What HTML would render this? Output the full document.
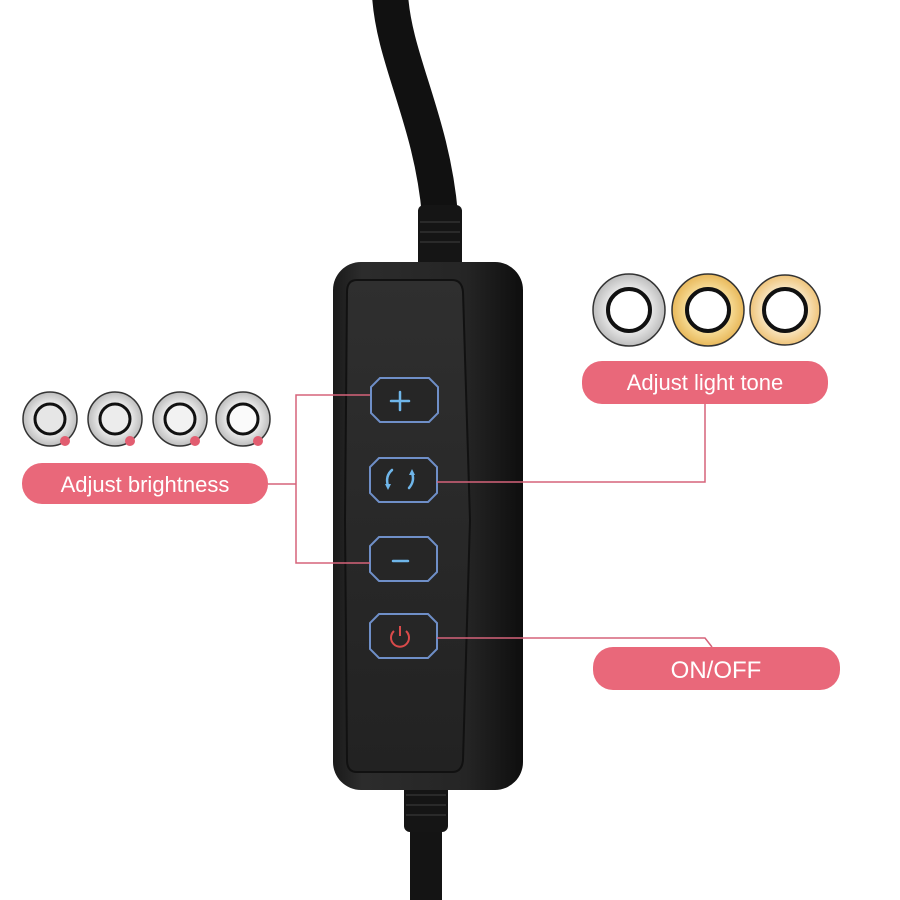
<!DOCTYPE html>
<html><head><meta charset="utf-8"><style>
html,body{margin:0;padding:0;background:#fff;}
svg{display:block;}
text{font-family:"Liberation Sans",sans-serif;}
</style></head><body>
<svg width="900" height="900" viewBox="0 0 900 900" xmlns="http://www.w3.org/2000/svg">
<defs>
<linearGradient id="body" x1="0" x2="1">
<stop offset="0" stop-color="#1a1a1a"/><stop offset="0.15" stop-color="#2c2c2c"/><stop offset="0.7" stop-color="#252525"/><stop offset="1" stop-color="#0e0e0e"/>
</linearGradient>
<linearGradient id="face" x1="0" x2="0" y1="0" y2="1">
<stop offset="0" stop-color="#2f2f2f"/><stop offset="1" stop-color="#222"/>
</linearGradient>
<radialGradient id="gold"><stop offset="0.5" stop-color="#fbe6a8"/><stop offset="1" stop-color="#e8b85a"/></radialGradient>
<radialGradient id="gold2"><stop offset="0.5" stop-color="#fbf0d8"/><stop offset="1" stop-color="#efc47a"/></radialGradient>
<radialGradient id="silver"><stop offset="0.5" stop-color="#f4f4f4"/><stop offset="1" stop-color="#bdbdbd"/></radialGradient>
</defs>
<!-- top cable -->
<path d="M390 -5 C394 60 432 120 440 215" stroke="#111" stroke-width="36" fill="none"/>
<rect x="418" y="205" width="44" height="65" rx="6" fill="#151515"/>
<g stroke="#2a2a2a" stroke-width="2"><line x1="420" y1="222" x2="460" y2="222"/><line x1="420" y1="232" x2="460" y2="232"/><line x1="420" y1="242" x2="460" y2="242"/></g>
<!-- bottom cable -->
<rect x="410" y="780" width="32" height="120" fill="#141414"/>
<rect x="404" y="770" width="44" height="62" rx="6" fill="#151515"/>
<g stroke="#2a2a2a" stroke-width="2"><line x1="406" y1="795" x2="446" y2="795"/><line x1="406" y1="805" x2="446" y2="805"/><line x1="406" y1="815" x2="446" y2="815"/></g>
<!-- body -->
<rect x="333" y="262" width="190" height="528" rx="28" fill="url(#body)"/>
<path d="M357 280 L452 280 Q462 280 463 292 L470 520 L463 760 Q462 772 452 772 L357 772 Q347 772 347 760 L345 520 L347 292 Q347 280 357 280Z" fill="url(#face)" stroke="#111" stroke-width="2"/>
<!-- buttons -->
<g fill="#262626" stroke="#6f8fc8" stroke-width="2">
<path d="M380 378 H429 L438 387 V413 L429 422 H380 L371 413 V387Z"/>
<path d="M379 458 H428 L437 467 V493 L428 502 H379 L370 493 V467Z"/>
<path d="M379 537 H428 L437 546 V572 L428 581 H379 L370 572 V546Z"/>
<path d="M379 614 H428 L437 623 V649 L428 658 H379 L370 649 V623Z"/>
</g>
<g stroke="#6fb6ea" stroke-width="2.5" fill="none" stroke-linecap="round">
<line x1="400" y1="392" x2="400" y2="410"/><line x1="391" y1="401" x2="409" y2="401"/>
<line x1="393" y1="561" x2="408" y2="561"/>
<path d="M392 470 Q385 476 388 486"/><path d="M409 488 Q415 481 412 473"/>
</g>
<g fill="#6fb6ea"><path d="M385 484 L391 484 L388 490Z"/><path d="M409 475 L415 475 L412 469Z"/></g>
<g stroke="#d94a4a" stroke-width="2" fill="none"><path d="M394 631 A9 9 0 1 0 406 631"/><line x1="400" y1="626" x2="400" y2="636"/></g>
<!-- connectors -->
<g stroke="#d5637a" stroke-width="1.5" fill="none">
<polyline points="370,395 296,395 296,563 370,563"/>
<line x1="268" y1="484" x2="296" y2="484"/>
<polyline points="437,482 705,482 705,404"/>
<polyline points="437,638 705,638 712,647"/>
</g>
<!-- pills -->
<g fill="#e9687a">
<rect x="22" y="463" width="246" height="41" rx="20"/>
<rect x="582" y="361" width="246" height="43" rx="20"/>
<rect x="593" y="647" width="247" height="43" rx="20"/>
</g>
<g fill="#fff" font-size="22" text-anchor="middle">
<text x="145" y="492">Adjust brightness</text>
<text x="705" y="390">Adjust light tone</text>
<text x="716" y="678" font-size="24">ON/OFF</text>
</g>
<!-- left rings -->
<g stroke="#333" stroke-width="1.5">
<circle cx="50" cy="419" r="27" fill="url(#silver)"/>
<circle cx="115" cy="419" r="27" fill="url(#silver)"/>
<circle cx="180" cy="419" r="27" fill="url(#silver)"/>
<circle cx="243" cy="419" r="27" fill="url(#silver)"/>
</g>
<g stroke="#111" stroke-width="3"><circle cx="50" cy="419" r="15" fill="#e6e6e6"/><circle cx="115" cy="419" r="15" fill="#ececec"/><circle cx="180" cy="419" r="15" fill="#f2f2f2"/><circle cx="243" cy="419" r="15" fill="#fafafa"/></g>
<g fill="#e25d70"><circle cx="65" cy="441" r="5"/><circle cx="130" cy="441" r="5"/><circle cx="195" cy="441" r="5"/><circle cx="258" cy="441" r="5"/></g>
<!-- right rings -->
<g stroke="#333" stroke-width="1.5">
<circle cx="629" cy="310" r="36" fill="url(#silver)"/>
<circle cx="708" cy="310" r="36" fill="url(#gold)"/>
<circle cx="785" cy="310" r="35" fill="url(#gold2)"/>
</g>
<g stroke="#111" stroke-width="4" fill="#fff"><circle cx="629" cy="310" r="21"/><circle cx="708" cy="310" r="21"/><circle cx="785" cy="310" r="21"/></g>
</svg>
</body></html>
